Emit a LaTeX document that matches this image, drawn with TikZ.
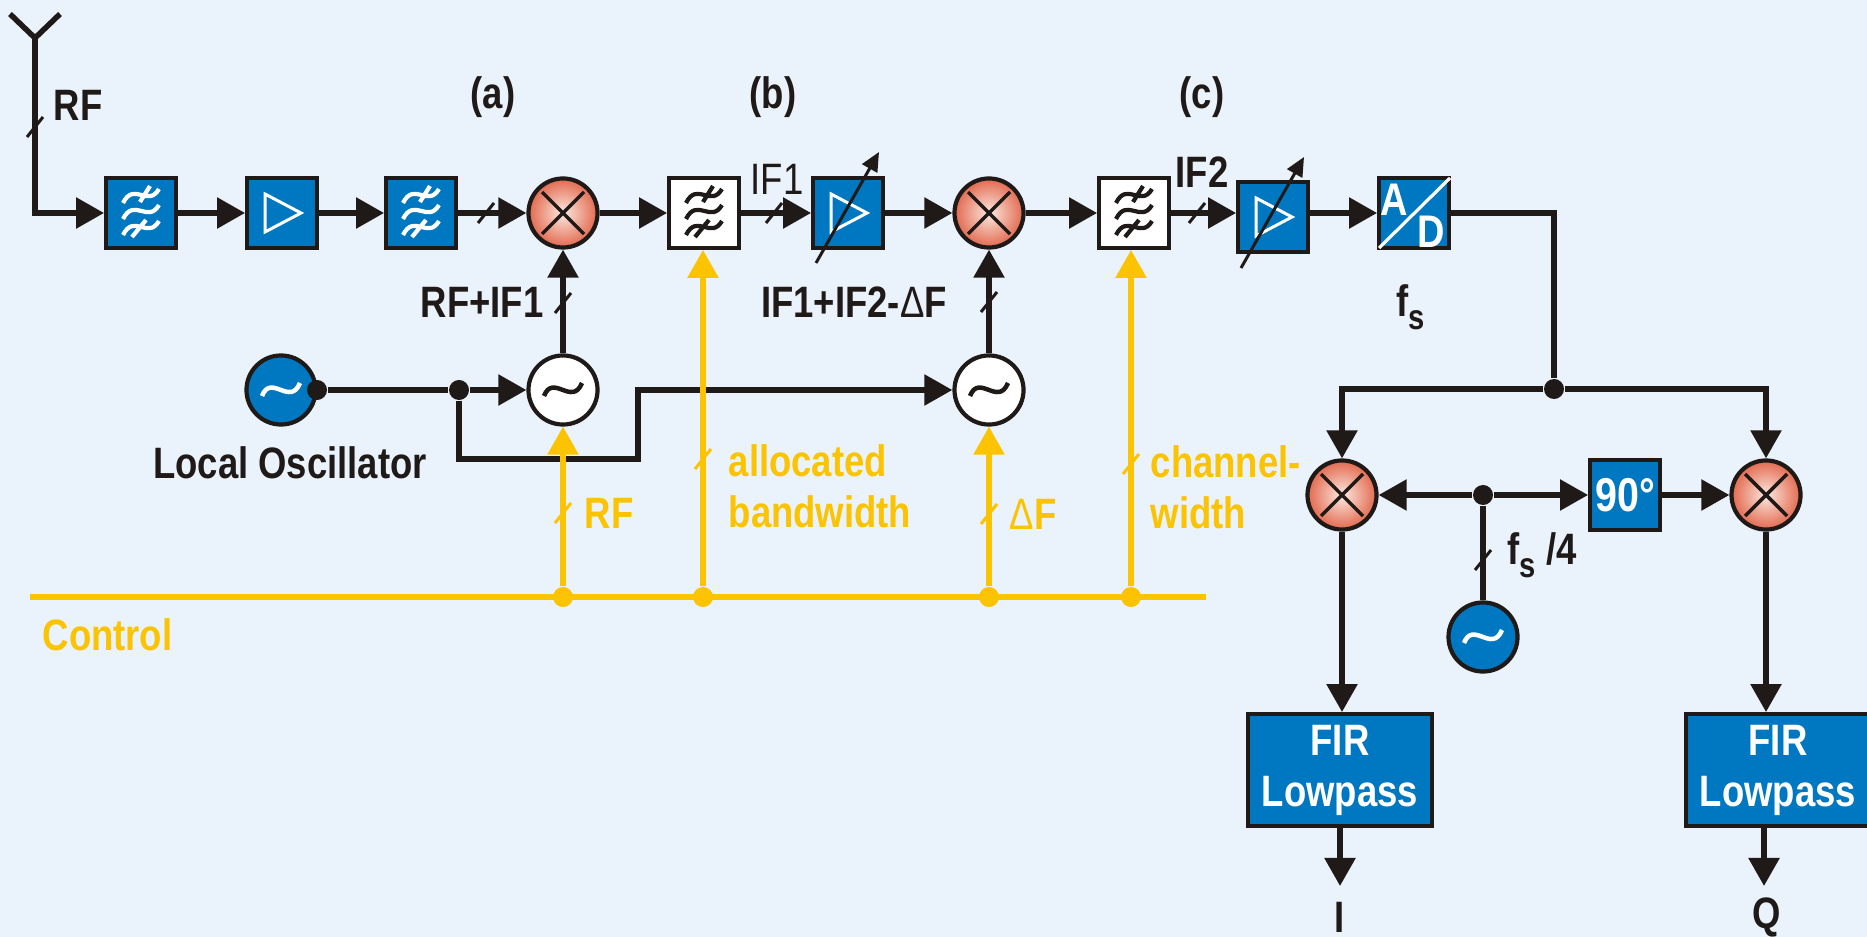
\documentclass[tikz,border=0pt]{standalone}
\usepackage{fontspec}
\setmainfont{Liberation Sans}[FakeStretch=0.83]
\usetikzlibrary{arrows.meta}
\definecolor{pagebg}{HTML}{EAF3FB}
\definecolor{lineblack}{HTML}{1F1A17}
\definecolor{boxblue}{HTML}{0078C1}
\definecolor{ctrlyellow}{HTML}{FBC300}
\definecolor{mixouter}{HTML}{E2694F}
\definecolor{mixinner}{HTML}{FCE8DF}
\newcommand{\subs}[1]{\raisebox{-0.55ex}{\fontsize{10}{10}\selectfont #1}}
\tikzset{
  wire/.style={draw=lineblack,line width=.055cm},
  yline/.style={draw=ctrlyellow,line width=.055cm},
  block/.style={draw=lineblack,line width=.038cm,minimum width=.70cm,minimum height=.70cm,inner sep=0pt},
  blueblock/.style={block,fill=boxblue},
  whiteblock/.style={block,fill=white},
  round/.style={draw=lineblack,line width=.042cm,circle,minimum size=.69cm,inner sep=0pt},
  mixer/.style={round,inner color=mixinner,outer color=mixouter},
  osc/.style={round,fill=white},
  blueosc/.style={round,fill=boxblue},
  dot/.style={circle,fill=lineblack,minimum size=.20cm,inner sep=0pt},
  ydot/.style={circle,fill=ctrlyellow,minimum size=.20cm,inner sep=0pt},
  lab/.style={font=\bfseries\fontsize{12.5}{14.5}\selectfont,text=lineblack,inner sep=0pt,align=center},
  ylab/.style={lab,text=ctrlyellow,align=left},
  wlab/.style={lab,text=white},
  tickmark/.pic={\draw[line width=.03cm] (-8,10) -- (8,-10);},
  cross/.pic={\draw[lineblack,line width=.035cm] (-21,-21) -- (21,21) (-21,21) -- (21,-21);},
  tilde/.pic={\draw[#1,line width=.045cm] (-19,6) .. controls (-10,-17) and (9,17) .. (19,-7);},
  ampsign/.pic={\draw[white,line width=.03cm] (-17,-19) -- (19,0) -- (-17,19) -- cycle;},
  waves/.pic={
    \draw[#1,line width=.042cm]
      (-18,-10) .. controls (-7,-32) and (7,-5) .. (18,-24)
      (-18,6) .. controls (-7,-16) and (7,11) .. (18,-8)
      (-18,22) .. controls (-7,0) and (7,27) .. (18,8)
      (-1,-11) -- (9,-27)
      (-9,24) -- (5,7);
  },
}
\begin{document}
\begin{tikzpicture}[>={Triangle[length=.28cm,width=.30cm]},x=.01cm,y=-.01cm]
  \useasboundingbox (0,0) rectangle (1867,937);
  \fill[pagebg] (0,0) rectangle (1867,937);

  % antenna
  \coordinate (antl) at (10,14);
  \coordinate (antr) at (60,14);
  \coordinate (ant) at (35,38);

  % top row
  \node[blueblock] (filta) at (141,213) {};
  \node[blueblock] (ampa) at (282,213) {};
  \node[blueblock] (filtb) at (421,213) {};
  \node[mixer] (mixa) at (563,213) {};
  \node[whiteblock] (filtc) at (704,213) {};
  \node[blueblock] (ampb) at (848,213) {};
  \node[mixer] (mixb) at (989,213) {};
  \node[whiteblock] (filtd) at (1134,213) {};
  \node[blueblock] (ampc) at (1273,217) {};
  \node[blueblock] (adc) at (1414,213) {};

  % oscillators
  \node[blueosc] (lo) at (281,390) {};
  \node[dot] (lodot) at (317,390) {};
  \node[dot] (splita) at (459,390) {};
  \node[osc] (osca) at (563,390) {};
  \node[osc] (oscb) at (989,390) {};
  \coordinate (benda) at (459,459);
  \coordinate (bendb) at (638,459);
  \coordinate (bendc) at (638,390);

  % IQ part
  \node[dot] (splitb) at (1554,389) {};
  \node[mixer] (mixi) at (1342,495) {};
  \node[mixer] (mixq) at (1766,495) {};
  \node[dot] (splitc) at (1483,495) {};
  \node[blueblock,wlab,font=\bfseries\fontsize{13.5}{15}\selectfont] (shift) at (1625,495) {90°};
  \node[blueosc] (oscc) at (1483,637) {};
  \node[blueblock,wlab,minimum width=1.84cm,minimum height=1.12cm] (firi) at (1340,770) {FIR\\Lowpass};
  \node[blueblock,wlab,minimum width=1.84cm,minimum height=1.12cm] (firq) at (1778,770) {FIR\\Lowpass};
  \coordinate (iend) at (1340,886);
  \coordinate (qend) at (1764,886);

  % control bus
  \coordinate (ctrll) at (30,597);
  \coordinate (ctrlr) at (1206,597);
  \node[ydot] (ya) at (563,597) {};
  \node[ydot] (yb) at (703,597) {};
  \node[ydot] (yc) at (989,597) {};
  \node[ydot] (yd) at (1131,597) {};

  % black connectors
  \draw[wire] (antl) -- (ant) -- (antr);
  \draw[wire,->] (ant) |- (filta);
  \draw[wire,->] (filta) -- (ampa);
  \draw[wire,->] (ampa) -- (filtb);
  \draw[wire,->] (filtb) -- (mixa);
  \draw[wire,->] (mixa) -- (filtc);
  \draw[wire,->] (filtc) -- (ampb);
  \draw[wire,->] (ampb) -- (mixb);
  \draw[wire,->] (mixb) -- (filtd);
  \draw[wire,->] (filtd) -- (filtd -| ampc.west);
  \draw[wire,->] (ampc.east |- adc) -- (adc);
  \draw[wire] (adc) -| (splitb);
  \draw[wire,->] (splitb) -| (mixi);
  \draw[wire,->] (splitb) -| (mixq);
  \draw[wire] (lodot) -- (splita);
  \draw[wire,->] (splita) -- (osca);
  \draw[wire,->] (splita) -- (benda) -- (bendb) -- (bendc) -- (oscb);
  \draw[wire,->] (osca) -- (mixa);
  \draw[wire,->] (oscb) -- (mixb);
  \draw[wire,->] (splitc) -- (mixi);
  \draw[wire,->] (splitc) -- (shift);
  \draw[wire,->] (shift) -- (mixq);
  \draw[wire] (oscc) -- (splitc);
  \draw[wire,->] (mixi) -- (mixi |- firi.north);
  \draw[wire,->] (mixq) -- (mixq |- firq.north);
  \draw[wire,->] (firi) -- (iend);
  \draw[wire,->] (qend |- firq.south) -- (qend);

  % yellow connectors
  \draw[yline] (ctrll) -- (ctrlr);
  \draw[yline,->] (ya) -- (osca);
  \draw[yline,->] (yb) -- (yb |- filtc.south);
  \draw[yline,->] (yc) -- (oscb);
  \draw[yline,->] (yd) -- (yd |- filtd.south);

  % symbols
  \pic at (filta) {waves=white};
  \pic at (filtb) {waves=white};
  \pic at (filtc) {waves=lineblack};
  \pic at (filtd) {waves=lineblack};
  \pic at (ampa) {ampsign};
  \pic at (ampb) {ampsign};
  \pic at (ampc) {ampsign};
  \pic at (mixa) {cross};
  \pic at (mixb) {cross};
  \pic at (mixi) {cross};
  \pic at (mixq) {cross};
  \pic at (lo) {tilde=white};
  \pic at (osca) {tilde=lineblack};
  \pic at (oscb) {tilde=lineblack};
  \pic at (oscc) {tilde=white};

  % gain arrows
  \coordinate (vara) at (816,263);
  \coordinate (varb) at (879,152);
  \coordinate (varc) at (1241,268);
  \coordinate (vard) at (1304,157);
  \draw[draw=lineblack,line width=.03cm,-{Triangle[length=.19cm,width=.17cm]}] (vara) -- (varb);
  \draw[draw=lineblack,line width=.03cm,-{Triangle[length=.19cm,width=.17cm]}] (varc) -- (vard);

  % A/D
  \coordinate (adl) at (1379,248);
  \coordinate (adr) at (1450,178);
  \draw[white,line width=.032cm] (adl) -- (adr);
  \node[wlab,font=\bfseries\fontsize{13}{15}\selectfont] (ada) at (1394,200) {A};
  \node[wlab,font=\bfseries\fontsize{13}{15}\selectfont] (add) at (1431,232) {D};

  % ticks
  \pic[lineblack] at (35,127) {tickmark};
  \pic[lineblack] at (486,213) {tickmark};
  \pic[lineblack] at (563,303) {tickmark};
  \pic[lineblack] at (774,213) {tickmark};
  \pic[lineblack] at (989,302) {tickmark};
  \pic[lineblack] at (1197,213) {tickmark};
  \pic[lineblack] at (1483,560) {tickmark};
  \pic[ctrlyellow] at (563,513) {tickmark};
  \pic[ctrlyellow] at (703,459) {tickmark};
  \pic[ctrlyellow] at (989,514) {tickmark};
  \pic[ctrlyellow] at (1131,464) {tickmark};

  % labels
  \node[lab] (rflab) at (78,105) {RF};
  \node[lab] (laba) at (493,97) {(a)};
  \node[lab] (labb) at (773,97) {(b)};
  \node[lab] (labc) at (1202,97) {(c)};
  \node[lab] (rfif) at (482,302) {RF+IF1};
  \node[lab,font=\fontsize{12.5}{14.5}\selectfont] (ifone) at (777,179) {IF1};
  \node[lab] (iftwo) at (1202,172) {IF2};
  \node[lab] (ifsum) at (854,302) {IF1+IF2-{\mdseries Δ}F};
  \node[lab] (fslab) at (1411,307) {f\subs{s}};
  \node[lab] (lolab) at (290,463) {Local Oscillator};
  \node[lab] (fsfour) at (1542,555) {f\subs{s} /4};
  \node[lab] (ilab) at (1340,917) {I};
  \node[lab] (qlab) at (1767,917) {Q};
  \node[ylab] (rfy) at (609,513) {RF};
  \node[ylab,anchor=west] (bwlab) at (728,486) {allocated\\bandwidth};
  \node[ylab] (dfy) at (1033,514) {{\mdseries Δ}F};
  \node[ylab,anchor=west] (chlab) at (1150,487) {channel-\\width};
  \node[ylab,anchor=west] (ctrllab) at (42,635) {Control};
\end{tikzpicture}
\end{document}
